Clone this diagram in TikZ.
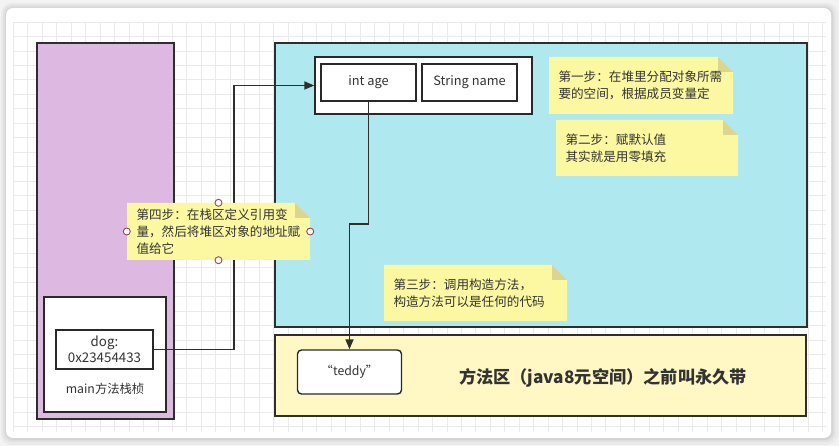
\documentclass[tikz,border=0pt]{standalone}
\usepackage{fontspec}
\setmainfont{Noto Sans CJK SC}
\usetikzlibrary{arrows.meta}
\definecolor{pagebg}{HTML}{F3F3F3}
\definecolor{gridc}{HTML}{EAEAEA}
\definecolor{stackc}{HTML}{DDB8E1}
\definecolor{heapc}{HTML}{B0E8EF}
\definecolor{methodc}{HTML}{FFF8C4}
\definecolor{notec}{HTML}{FCF8A2}
\definecolor{foldc}{HTML}{DAD58F}
\definecolor{edgec}{HTML}{2E2E2E}
\definecolor{txtc}{HTML}{333333}
\definecolor{handlec}{HTML}{9A4655}
\tikzset{
  region/.style={draw=edgec, line width=1.7pt, inner sep=0pt},
  whitebox/.style={draw=edgec!90!black, fill=white, line width=1.4pt, inner sep=0pt, text=txtc, font=\fontsize{12.8}{16}\selectfont, align=center},
  notebox/.style={inner xsep=9.5pt, inner ysep=0pt, align=left, text=txtc,
    font=\fontsize{12.6}{16.8}\selectfont,
    path picture={
      \fill[notec] (path picture bounding box.south west) -- (path picture bounding box.south east)
        -- ([yshift=-15pt]path picture bounding box.north east) -- ([xshift=-15pt]path picture bounding box.north east)
        -- (path picture bounding box.north west) -- cycle;
      \fill[foldc] ([xshift=-15pt]path picture bounding box.north east) -- ([xshift=-15pt,yshift=-15pt]path picture bounding box.north east)
        -- ([yshift=-15pt]path picture bounding box.north east) -- cycle;
    }},
  conn/.style={draw=edgec, line width=1.8pt, -{Triangle[length=10pt,width=8pt]}},
  handle/.style={circle, draw=handlec, fill=white, line width=0.9pt, minimum size=7pt, inner sep=0pt},
}
\begin{document}
\begin{tikzpicture}[x=1pt,y=-1pt]
\useasboundingbox (0,0) rectangle (839,446);
% page and card
\fill[pagebg] (0,0) rectangle (839,446);
\fill[black, opacity=0.035, rounded corners=11] (1,3) rectangle (838,445);
\fill[black, opacity=0.04, rounded corners=9] (3,5) rectangle (835,442);
\fill[black, opacity=0.05, rounded corners=8] (5,7) rectangle (833,440);
\fill[white, rounded corners=7] (6,8) rectangle (831,438);
% grid
\foreach \i in {0,...,56} { \draw[gridc, line width=0.6pt] ({13.3+14.45*\i},22) -- ({13.3+14.45*\i},432); }
\foreach \j in {0,...,28} { \draw[gridc, line width=0.6pt] (14,{22+14.45*\j}) -- (826,{22+14.45*\j}); }
% stack
\node[region, fill=stackc, minimum width=137, minimum height=376] (stack) at (105.5,231) {};
\node[whitebox, minimum width=122, minimum height=115] (frame) at (105,354.5) {};
\node[whitebox, minimum width=97, minimum height=39, font=\fontsize{13.3}{16}\selectfont] (dog) at (104.5,349.5) {dog:\\0x23454433};
\node[text=txtc, font=\fontsize{12.3}{14}\selectfont, inner sep=0pt] (framelabel) at (105,389) {main方法栈桢};
% heap
\node[region, fill=heapc, minimum width=532, minimum height=284] (heap) at (541,185) {};
\node[whitebox, minimum width=217, minimum height=57] (obj) at (423.5,85.5) {};
\node[whitebox, minimum width=95, minimum height=37] (age) at (368.5,82.5) {int age};
\node[whitebox, minimum width=95, minimum height=37] (name) at (469.5,82.5) {String name};
% method area
\node[region, fill=methodc, minimum width=531, minimum height=81] (method) at (540.5,375.5) {};
\node[whitebox, rounded corners=4pt, minimum width=104, minimum height=44, font=\fontsize{12.3}{14}\selectfont] (teddy) at (349.5,372) {“teddy”};
\node[text=txtc, font=\fontsize{17.2}{20}\selectfont\bfseries, inner sep=0pt] (title) at (603,378) {方法区（java8元空间）之前叫永久带};
% connectors
\coordinate (j1) at (234,0);
\coordinate (j2) at (0,224);
\draw[conn] (dog.east) -- (dog.east -| j1) -- (j1 |- obj.west) -- (obj.west);
\draw[conn] (age.south) -- (age.south |- j2) -- (teddy.north |- j2) -- (teddy.north);
% notes
\node[notebox, text width=165, minimum height=57] (n1) at (641,85.5) {第一步：在堆里分配对象所需\\要的空间，根据成员变量定};
\node[notebox, text width=163, minimum height=56] (n2) at (647,148) {第二步：赋默认值\\其实就是用零填充};
\node[notebox, text width=164, minimum height=56] (n3) at (475.5,293) {第三步：调用构造方法，\\构造方法可以是任何的代码};
\node[notebox, text width=164, minimum height=57] (n4) at (218.5,231.5) {第四步：在栈区定义引用变\\量，然后将堆区对象的地址赋\\值给它};
% selection handles
\node[handle] (h1) at (n4.north) {};
\node[handle] (h2) at (n4.south) {};
\node[handle] (h3) at (n4.west) {};
\node[handle] (h4) at (n4.east) {};
\end{tikzpicture}
\end{document}
